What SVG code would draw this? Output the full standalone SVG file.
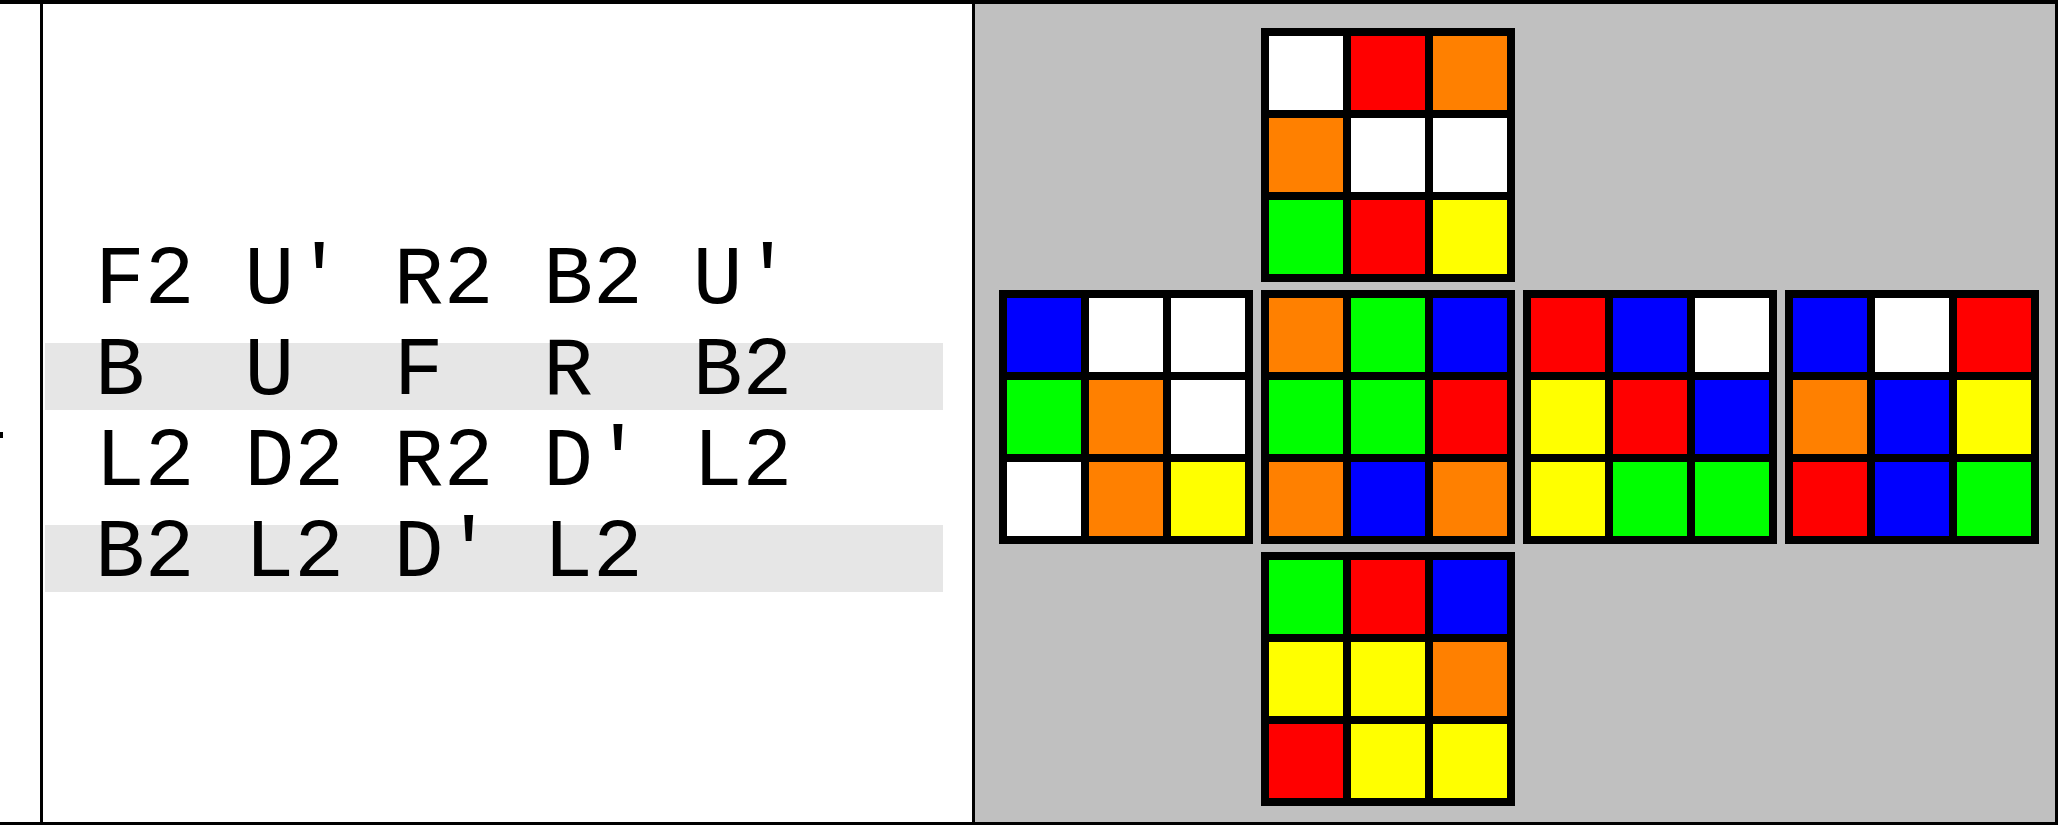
<svg xmlns="http://www.w3.org/2000/svg" width="2068" height="825" viewBox="0 0 2068 825">
<style>
.frame{fill:none;stroke:#000;stroke-width:3}
.band{fill:#e6e6e6}
.moves{font-family:"Liberation Mono","DejaVu Sans Mono",monospace;font-size:83px;fill:#000;white-space:pre}
.bd{fill:#000}
.W{fill:#ffffff}.R{fill:#ff0000}.O{fill:#ff8000}.G{fill:#00ff00}.B{fill:#0000ff}.Y{fill:#ffff00}
</style>
<rect x="0" y="0" width="2068" height="825" fill="#fff"/>
<g id="table">
<rect x="973.5" y="2" width="1083" height="821.5" fill="#c0c0c0"/>
<rect class="band" x="45" y="343" width="898" height="67"/>
<rect class="band" x="45" y="525" width="898" height="67"/>
<line x1="0" y1="2" x2="2058" y2="2" stroke="#000" stroke-width="4"/>
<line x1="0" y1="823.5" x2="2058" y2="823.5" stroke="#000" stroke-width="3"/>
<line x1="41.5" y1="0" x2="41.5" y2="825" stroke="#000" stroke-width="3"/>
<line x1="973.5" y1="0" x2="973.5" y2="825" stroke="#000" stroke-width="3"/>
<line x1="2056.5" y1="0" x2="2056.5" y2="825" stroke="#000" stroke-width="3"/>
<rect x="0" y="432" width="3" height="6" fill="#000"/>
</g>
<g id="scramble" class="moves">
<text x="95" y="303" xml:space="preserve">F2 U' R2 B2 U'</text>
<text x="95" y="394" xml:space="preserve">B  U  F  R  B2</text>
<text x="95" y="485" xml:space="preserve">L2 D2 R2 D' L2</text>
<text x="95" y="576" xml:space="preserve">B2 L2 D' L2</text>
</g>
<g id="face-U" transform="translate(1261,28)">
<rect class="bd" width="254" height="254"/>
<rect class="W" x="8" y="8" width="74" height="74"/><rect class="R" x="90" y="8" width="74" height="74"/><rect class="O" x="172" y="8" width="74" height="74"/>
<rect class="O" x="8" y="90" width="74" height="74"/><rect class="W" x="90" y="90" width="74" height="74"/><rect class="W" x="172" y="90" width="74" height="74"/>
<rect class="G" x="8" y="172" width="74" height="74"/><rect class="R" x="90" y="172" width="74" height="74"/><rect class="Y" x="172" y="172" width="74" height="74"/>
</g>
<g id="face-L" transform="translate(999,290)">
<rect class="bd" width="254" height="254"/>
<rect class="B" x="8" y="8" width="74" height="74"/><rect class="W" x="90" y="8" width="74" height="74"/><rect class="W" x="172" y="8" width="74" height="74"/>
<rect class="G" x="8" y="90" width="74" height="74"/><rect class="O" x="90" y="90" width="74" height="74"/><rect class="W" x="172" y="90" width="74" height="74"/>
<rect class="W" x="8" y="172" width="74" height="74"/><rect class="O" x="90" y="172" width="74" height="74"/><rect class="Y" x="172" y="172" width="74" height="74"/>
</g>
<g id="face-F" transform="translate(1261,290)">
<rect class="bd" width="254" height="254"/>
<rect class="O" x="8" y="8" width="74" height="74"/><rect class="G" x="90" y="8" width="74" height="74"/><rect class="B" x="172" y="8" width="74" height="74"/>
<rect class="G" x="8" y="90" width="74" height="74"/><rect class="G" x="90" y="90" width="74" height="74"/><rect class="R" x="172" y="90" width="74" height="74"/>
<rect class="O" x="8" y="172" width="74" height="74"/><rect class="B" x="90" y="172" width="74" height="74"/><rect class="O" x="172" y="172" width="74" height="74"/>
</g>
<g id="face-R" transform="translate(1523,290)">
<rect class="bd" width="254" height="254"/>
<rect class="R" x="8" y="8" width="74" height="74"/><rect class="B" x="90" y="8" width="74" height="74"/><rect class="W" x="172" y="8" width="74" height="74"/>
<rect class="Y" x="8" y="90" width="74" height="74"/><rect class="R" x="90" y="90" width="74" height="74"/><rect class="B" x="172" y="90" width="74" height="74"/>
<rect class="Y" x="8" y="172" width="74" height="74"/><rect class="G" x="90" y="172" width="74" height="74"/><rect class="G" x="172" y="172" width="74" height="74"/>
</g>
<g id="face-B" transform="translate(1785,290)">
<rect class="bd" width="254" height="254"/>
<rect class="B" x="8" y="8" width="74" height="74"/><rect class="W" x="90" y="8" width="74" height="74"/><rect class="R" x="172" y="8" width="74" height="74"/>
<rect class="O" x="8" y="90" width="74" height="74"/><rect class="B" x="90" y="90" width="74" height="74"/><rect class="Y" x="172" y="90" width="74" height="74"/>
<rect class="R" x="8" y="172" width="74" height="74"/><rect class="B" x="90" y="172" width="74" height="74"/><rect class="G" x="172" y="172" width="74" height="74"/>
</g>
<g id="face-D" transform="translate(1261,552)">
<rect class="bd" width="254" height="254"/>
<rect class="G" x="8" y="8" width="74" height="74"/><rect class="R" x="90" y="8" width="74" height="74"/><rect class="B" x="172" y="8" width="74" height="74"/>
<rect class="Y" x="8" y="90" width="74" height="74"/><rect class="Y" x="90" y="90" width="74" height="74"/><rect class="O" x="172" y="90" width="74" height="74"/>
<rect class="R" x="8" y="172" width="74" height="74"/><rect class="Y" x="90" y="172" width="74" height="74"/><rect class="Y" x="172" y="172" width="74" height="74"/>
</g>
</svg>
